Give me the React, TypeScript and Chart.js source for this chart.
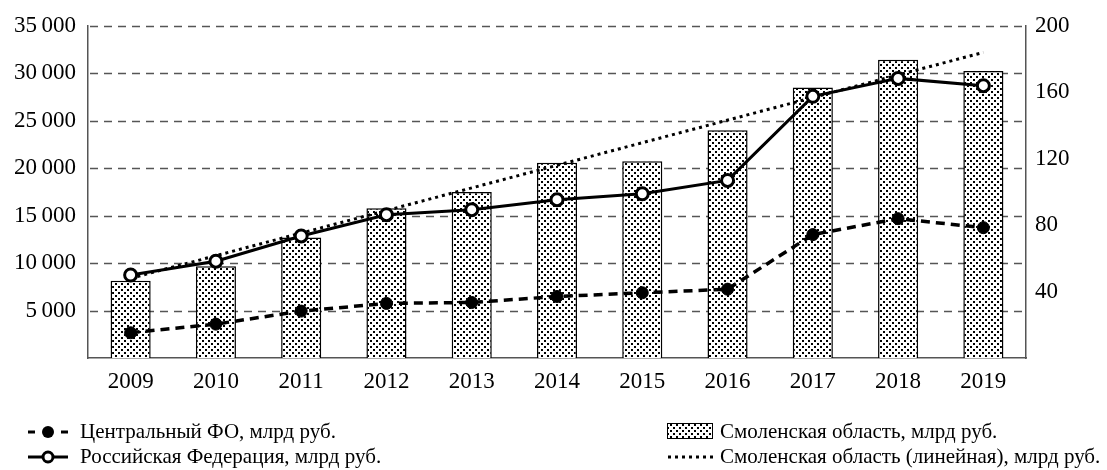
import React, { useEffect, useRef } from "react";
import { Chart, registerables } from "chart.js";

Chart.register(...registerables);

const years = ["2009", "2010", "2011", "2012", "2013", "2014", "2015", "2016", "2017", "2018", "2019"];
// Smolensk region (right axis)
const smolensk = [46.5, 55.3, 72.5, 90.1, 100, 117.5, 118.5, 137.1, 162.8, 179.6, 172.8];
// Linear trend of Smolensk region (right axis), endpoints
const smolenskTrend = [48, null, null, null, null, null, null, null, null, null, 184];
// Central FD (left axis)
const centralFD = [2660, 3570, 4940, 5750, 5850, 6480, 6870, 7250, 13000, 14680, 13730];
// Russian Federation (left axis)
const russia = [8750, 10200, 12860, 15100, 15630, 16680, 17310, 18710, 27570, 29460, 28690];

const leftTickLabels = ["", "5\u2009000", "10\u2009000", "15\u2009000", "20\u2009000", "25\u2009000", "30\u2009000", "35\u2009000"];
const rightTickLabels = ["", "40", "80", "120", "160", "200"];

const legendLabels = [
  "Центральный ФО, млрд руб.",
  "Российская Федерация, млрд руб.",
  "Смоленская область, млрд руб.",
  "Смоленская область (линейная), млрд руб.",
];

const FONT = "'Liberation Serif', 'Times New Roman', serif";

function makePattern(ctx: CanvasRenderingContext2D): CanvasPattern | string {
  const c = document.createElement("canvas");
  c.width = 6;
  c.height = 6;
  const p = c.getContext("2d")!;
  p.fillStyle = "#fff";
  p.fillRect(0, 0, 6, 6);
  p.fillStyle = "#000";
  p.fillRect(1, 1, 2, 2);
  p.fillRect(4, 4, 2, 2);
  return ctx.createPattern(c, "repeat") || "#ccc";
}

export default function App() {
  const ref = useRef<HTMLCanvasElement | null>(null);

  useEffect(() => {
    document.body.style.margin = "0";
    const canvas = ref.current!;
    const ctx = canvas.getContext("2d")!;
    const pattern = makePattern(ctx);

    const gridPlugin = {
      id: "dashedGrid",
      beforeDatasetsDraw(chart: any) {
        const c: CanvasRenderingContext2D = chart.ctx;
        const y = chart.scales.y;
        const area = chart.chartArea;
        c.save();
        c.strokeStyle = "#555";
        c.lineWidth = 1.3;
        c.setLineDash([8, 6]);
        y.ticks.forEach((t: any) => {
          if (t.value === 0) return;
          const py = Math.round(y.getPixelForValue(t.value)) + 0.5;
          c.beginPath();
          c.moveTo(area.left + 2, py);
          c.lineTo(area.right - 2, py);
          c.stroke();
        });
        c.restore();
      },
    };

    const legendPlugin = {
      id: "customLegend",
      afterDraw(chart: any) {
        const c: CanvasRenderingContext2D = chart.ctx;
        c.save();
        c.font = `21px ${FONT}`;
        c.fillStyle = "#000";
        c.textBaseline = "middle";
        c.textAlign = "left";
        const r1 = 432;
        const r2 = 457;
        // item 1: dashed with filled dot
        c.strokeStyle = "#000";
        c.lineWidth = 3;
        c.beginPath();
        c.moveTo(28, r1);
        c.lineTo(35, r1);
        c.moveTo(61, r1);
        c.lineTo(68, r1);
        c.stroke();
        c.beginPath();
        c.arc(48, r1, 6, 0, Math.PI * 2);
        c.fill();
        c.fillText(legendLabels[0], 80, r1);
        // item 2: solid with hollow dot
        c.beginPath();
        c.moveTo(28, r2);
        c.lineTo(68, r2);
        c.stroke();
        c.beginPath();
        c.arc(48, r2, 5, 0, Math.PI * 2);
        c.fillStyle = "#fff";
        c.fill();
        c.stroke();
        c.fillStyle = "#000";
        c.fillText(legendLabels[1], 80, r2);
        // item 3: patterned box
        c.fillStyle = pattern as any;
        c.fillRect(667, 423, 46, 16);
        c.lineWidth = 1;
        c.strokeRect(667.5, 423.5, 45, 15);
        c.fillStyle = "#000";
        c.fillText(legendLabels[2], 720, r1);
        // item 4: dotted
        c.lineWidth = 3;
        c.setLineDash([3, 4]);
        c.beginPath();
        c.moveTo(668, r2);
        c.lineTo(714, r2);
        c.stroke();
        c.setLineDash([]);
        c.fillText(legendLabels[3], 720, r2);
        c.restore();
      },
    };

    const chart = new Chart(ctx, {
      type: "bar",
      data: {
        labels: years,
        datasets: [
          {
            type: "line",
            label: legendLabels[0],
            data: centralFD,
            yAxisID: "y",
            borderColor: "#000",
            borderWidth: 3.5,
            borderDash: [9, 6],
            pointRadius: 6,
            pointBackgroundColor: "#000",
            pointBorderColor: "#000",
            pointBorderWidth: 1,
            order: 2,
          },
          {
            type: "line",
            label: legendLabels[1],
            data: russia,
            yAxisID: "y",
            borderColor: "#000",
            borderWidth: 3,
            pointRadius: 6,
            pointBackgroundColor: "#fff",
            pointBorderColor: "#000",
            pointBorderWidth: 3,
            order: 1,
          },
          {
            type: "line",
            label: legendLabels[3],
            data: smolenskTrend,
            yAxisID: "y1",
            borderColor: "#000",
            borderWidth: 3,
            borderDash: [3, 4],
            pointRadius: 0,
            spanGaps: true,
            order: 3,
          },
          {
            type: "bar",
            label: legendLabels[2],
            data: smolensk,
            yAxisID: "y1",
            backgroundColor: pattern as any,
            borderColor: "#000",
            borderWidth: 1.5,
            barPercentage: 0.47,
            categoryPercentage: 1,
            order: 10,
          },
        ],
      },
      options: {
        responsive: false,
        animation: false,
        layout: { padding: { top: 25, left: 0, right: 0, bottom: 0 } },
        plugins: {
          legend: { display: false },
          tooltip: { enabled: false },
        },
        scales: {
          x: {
            offset: true,
            grid: { display: false, drawTicks: false },
            border: { display: true, color: "#555", width: 1.5 },
            ticks: { color: "#000", font: { family: FONT, size: 23 }, padding: 10, maxRotation: 0 },
            afterFit: (s: any) => {
              s.height = 112;
            },
          },
          y: {
            position: "left",
            min: 0,
            max: 35000,
            grid: { display: false, drawTicks: false },
            border: { display: true, color: "#555", width: 1.5 },
            ticks: {
              stepSize: 5000,
              color: "#000",
              font: { family: FONT, size: 23 },
              padding: 12,
              callback: (v: any) => leftTickLabels[Math.round(Number(v) / 5000)] ?? "",
            },
            afterFit: (s: any) => {
              s.width = 88;
            },
          },
          y1: {
            position: "right",
            min: 0,
            max: 200,
            grid: { display: false, drawTicks: false },
            border: { display: true, color: "#555", width: 1.5 },
            ticks: {
              stepSize: 40,
              color: "#000",
              font: { family: FONT, size: 23 },
              padding: 9,
              callback: (v: any) => rightTickLabels[Math.round(Number(v) / 40)] ?? "",
            },
            afterFit: (s: any) => {
              s.width = 81;
            },
          },
        },
      },
      plugins: [gridPlugin, legendPlugin],
    });

    return () => chart.destroy();
  }, []);

  return (
    <div style={{ width: 1107, height: 470, background: "#fff" }}>
      <canvas ref={ref} width={1107} height={470} />
    </div>
  );
}
